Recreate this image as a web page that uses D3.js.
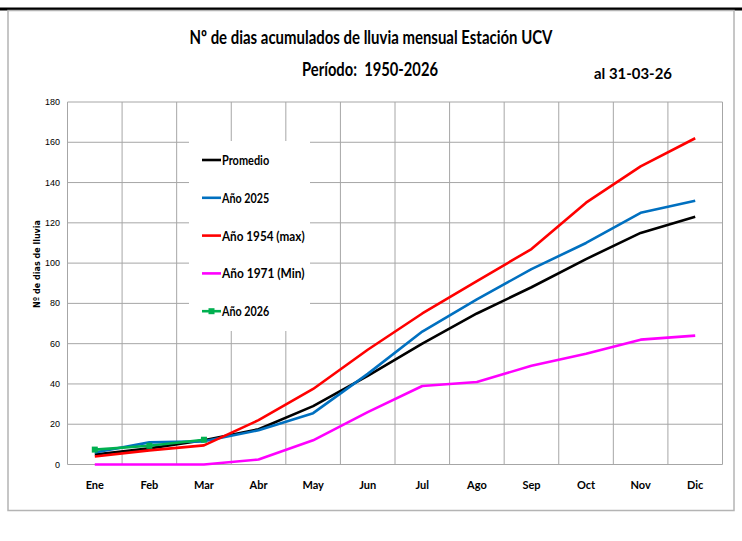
<!DOCTYPE html>
<html>
<head>
<meta charset="utf-8">
<script src="https://cdn.jsdelivr.net/npm/d3@7"></script>
<style>
  body { margin: 0; background: #fff; }
  text { font-family: Lato, "Open Sans", sans-serif; font-weight: bold; fill: #000; }
</style>
</head>
<body>
<script>
// chart data
var months = ["Ene", "Feb", "Mar", "Abr", "May", "Jun", "Jul", "Ago", "Sep", "Oct", "Nov", "Dic"];
var promedio = [5, 8, 12, 17.5, 29, 44, 60, 75, 88, 102, 115, 123];
var anio2025 = [6, 11, 11.5, 17, 25.5, 45, 66, 82, 97, 110, 125, 131];
var anio1954 = [4, 7, 9.5, 22, 37.5, 57, 75, 91, 107, 130, 148, 162];
var anio1971 = [0, 0, 0, 2.5, 12, 26, 39, 41, 49, 55, 62, 64];
var anio2026 = [7.4, 9.3, 12.3];
var yTicks = [0, 20, 40, 60, 80, 100, 120, 140, 160, 180];

var series = [
  { name: "Promedio", values: promedio, color: "#000000" },
  { name: "Año 2025", values: anio2025, color: "#0070C0" },
  { name: "Año 1954 (max)", values: anio1954, color: "#FF0000" },
  { name: "Año 1971 (Min)", values: anio1971, color: "#FF00FF" },
  { name: "Año 2026", values: anio2026, color: "#00B050", marker: true }
];

var draw = function() {
  let width = 742, height = 541;
  let plot = { left: 67.5, right: 722.5, top: 102, bottom: 464.5 };

  let svg = d3.select('body').append('svg')
    .attr('width', width)
    .attr('height', height);

  // top rule and chart frame
  svg.append('rect').attr('x', 0).attr('y', 7.5).attr('width', width).attr('height', 3).attr('fill', '#000');
  svg.append('rect').attr('x', 8).attr('y', 10.5).attr('width', 726).attr('height', 500)
    .attr('fill', 'none').attr('stroke', '#b4b4b4').attr('stroke-width', 1.5);

  let x = d3.scaleBand().domain(months).range([plot.left, plot.right]);
  let y = d3.scaleLinear().domain([0, 180]).range([plot.bottom, plot.top]);

  // gridlines
  let grid = svg.append('g').attr('stroke', '#a6a6a6').attr('stroke-width', 1);
  grid.selectAll('line.h').data(yTicks).enter().append('line')
    .attr('x1', plot.left).attr('x2', plot.right)
    .attr('y1', d => y(d)).attr('y2', d => y(d));
  let xEdges = months.map(m => x(m)).concat([plot.right]);
  grid.selectAll('line.v').data(xEdges).enter().append('line')
    .attr('x1', d => d).attr('x2', d => d)
    .attr('y1', plot.top).attr('y2', plot.bottom);

  // y axis labels
  svg.append('g').selectAll('text').data(yTicks).enter().append('text')
    .attr('x', 60).attr('y', d => y(d) + 3)
    .attr('text-anchor', 'end')
    .style('font-family', '"Liberation Sans Narrow", "Arial Narrow", sans-serif')
    .style('font-weight', 'normal')
    .style('font-size', '9px')
    .text(d => d);

  svg.append('text')
    .attr('transform', 'translate(40,264) rotate(-90)')
    .attr('text-anchor', 'middle')
    .style('font-family', '"DejaVu Sans", Verdana, sans-serif')
    .style('font-size', '9px')
    .attr('textLength', 88).attr('lengthAdjust', 'spacingAndGlyphs')
    .text('Nº de dias de lluvia');

  // x axis labels
  svg.append('g').selectAll('text').data(months).enter().append('text')
    .attr('x', d => x(d) + x.bandwidth() / 2).attr('y', 489)
    .attr('text-anchor', 'middle')
    .style('font-size', '11px')
    .text(d => d);

  // lines
  let line = d3.line()
    .x((d, i) => x(months[i]) + x.bandwidth() / 2)
    .y(d => y(d));

  series.forEach(s => {
    svg.append('path').datum(s.values)
      .attr('d', line)
      .attr('fill', 'none')
      .attr('stroke', s.color)
      .attr('stroke-width', 2.6)
      .attr('stroke-linejoin', 'round');
    if (s.marker) {
      svg.append('g').selectAll('rect').data(s.values).enter().append('rect')
        .attr('x', (d, i) => x(months[i]) + x.bandwidth() / 2 - 3)
        .attr('y', d => y(d) - 3)
        .attr('width', 6).attr('height', 6)
        .attr('fill', s.color);
    }
  });

  // legend
  let legend = svg.append('g');
  legend.append('rect').attr('x', 189).attr('y', 141).attr('width', 121).attr('height', 190).attr('fill', '#fff');
  series.forEach((s, i) => {
    let ly = 160 + i * 37.8;
    legend.append('line')
      .attr('x1', 202).attr('x2', 221).attr('y1', ly).attr('y2', ly)
      .attr('stroke', s.color).attr('stroke-width', 2.6);
    if (s.marker) {
      legend.append('rect').attr('x', 208.5).attr('y', ly - 3).attr('width', 6).attr('height', 6).attr('fill', s.color);
    }
    legend.append('text')
      .attr('x', 222).attr('y', ly + 5)
      .style('font-size', '13px')
      .attr('textLength', s.name.length * 5.9)
      .attr('lengthAdjust', 'spacingAndGlyphs')
      .text(s.name);
  });

  // titles
  svg.append('text').attr('x', 371).attr('y', 44)
    .attr('text-anchor', 'middle')
    .style('font-size', '18.5px')
    .attr('textLength', 363).attr('lengthAdjust', 'spacingAndGlyphs')
    .text('Nº de dias acumulados de lluvia mensual Estación UCV');
  svg.append('text').attr('x', 370).attr('y', 76)
    .attr('text-anchor', 'middle')
    .style('font-size', '18.5px')
    .style('white-space', 'pre')
    .attr('textLength', 136).attr('lengthAdjust', 'spacingAndGlyphs')
    .text('Período:  1950-2026');
  svg.append('text').attr('x', 633).attr('y', 79)
    .attr('text-anchor', 'middle')
    .style('font-size', '15px')
    .attr('textLength', 78).attr('lengthAdjust', 'spacingAndGlyphs')
    .text('al 31-03-26');
}

draw();
</script>
</body>
</html>
